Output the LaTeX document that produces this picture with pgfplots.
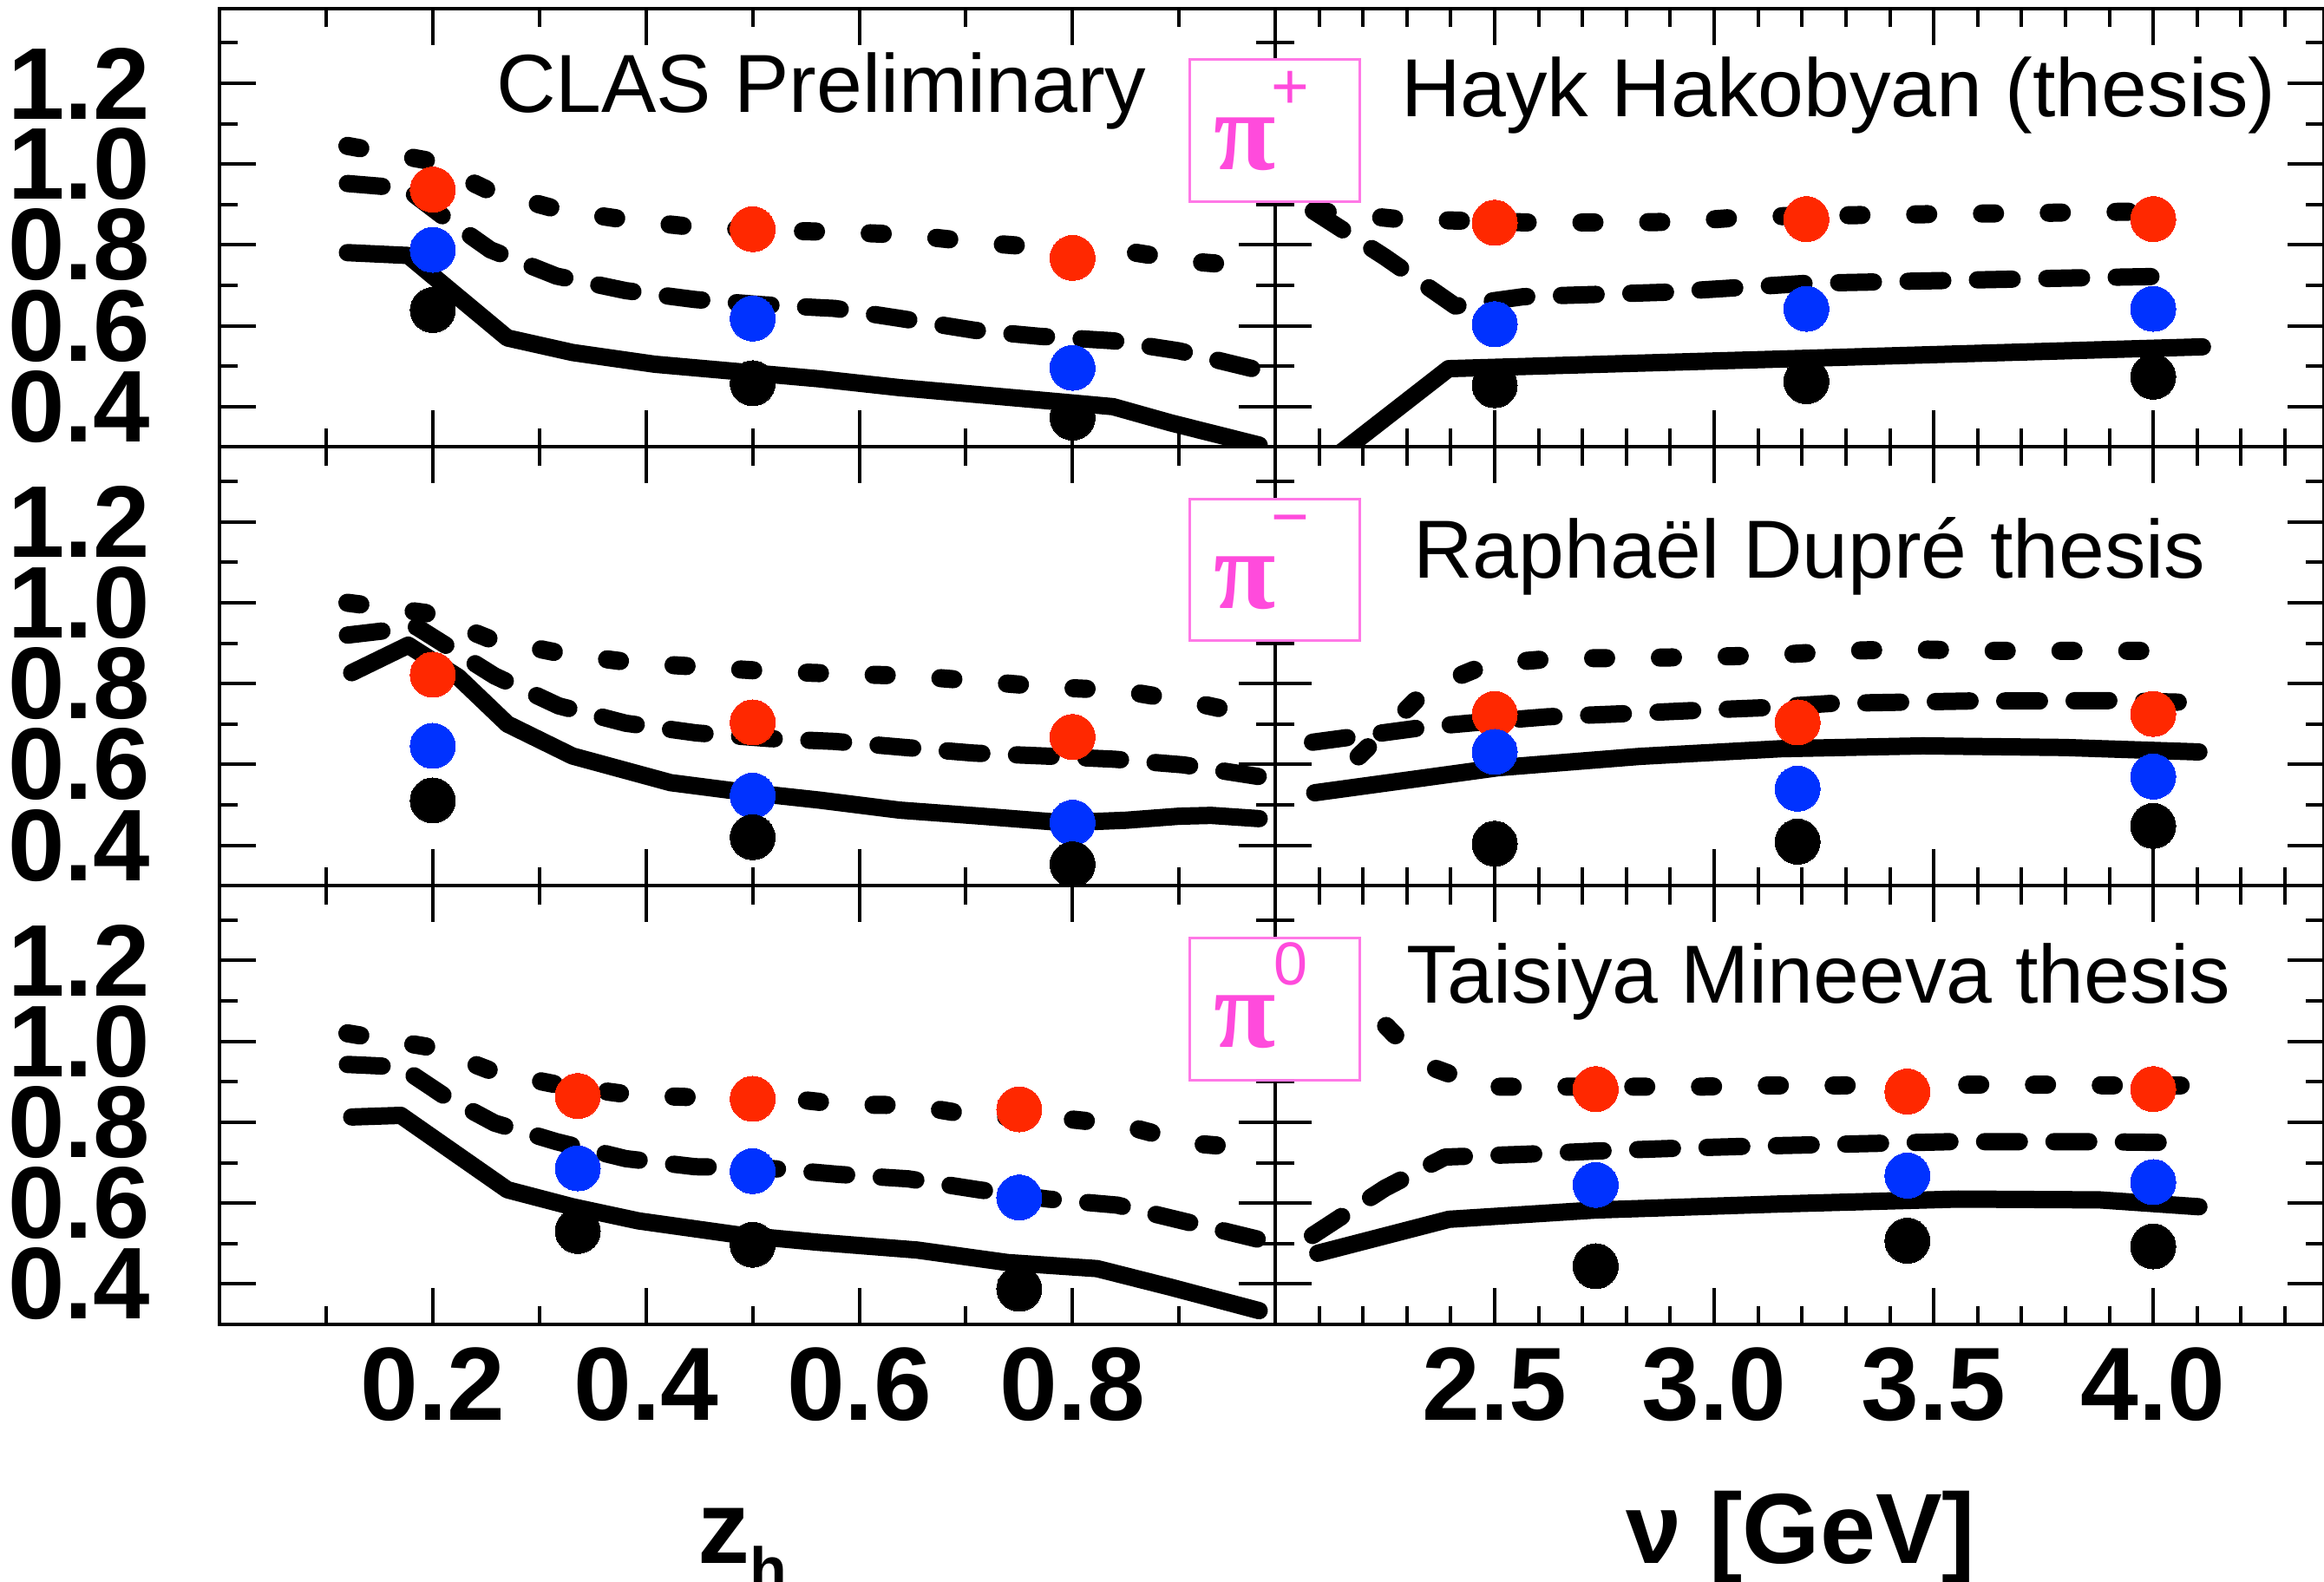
\documentclass[border=0pt]{standalone}
\usepackage{pgfplots}
\pgfplotsset{compat=1.18}
\usepackage{fontspec}
\setmainfont{Liberation Sans}
\newfontfamily\pifont{Liberation Serif}
\definecolor{dred}{RGB}{255,40,0}
\definecolor{dblue}{RGB}{0,50,255}
\definecolor{pimag}{RGB}{255,75,220}
\definecolor{boxmag}{RGB}{255,120,230}
\pgfplotsset{
 panel/.style={scale only axis, anchor=south west, height=101.15pt,
   ymin=0.3, ymax=1.385, ytick={0.4,0.6,0.8,1.0,1.2}, minor ytick={0.3,0.5,0.7,0.9,1.1,1.3},
   yticklabels={}, xticklabels={},
   tick align=inside, major tick length=8.4pt, minor tick length=4.3pt,
   every tick/.style={black, line width=0.8pt},
   axis line style={line width=0.8pt},
   xticklabel style={font=\fontsize{24}{24}\selectfont\bfseries, anchor=north, inner sep=0pt, yshift=-5.2pt},
   yticklabel style={font=\fontsize{23.5}{23.5}\selectfont\bfseries, anchor=east, inner sep=0pt, xshift=-15.8pt},
 },
 zp/.style={panel, width=243.4pt, xmin=0, xmax=0.99, xtick={0.2,0.4,0.6,0.8}, minor xtick={0.1,0.3,0.5,0.7,0.9}},
 np/.style={panel, width=241.8pt, xmin=2.0, xmax=4.389, xtick={2.5,3.0,3.5,4.0},
   minor xtick={2.1,2.2,2.3,2.4,2.6,2.7,2.8,2.9,3.1,3.2,3.3,3.4,3.6,3.7,3.8,3.9,4.1,4.2,4.3}},
 sol/.style={black, line width=4pt, line join=round, line cap=round},
 dsh/.style={black, line width=4pt, dash pattern=on 8pt off 8pt, line cap=round, line join=round},
 dtt/.style={black, line width=4.2pt, dash pattern=on 3pt off 12.4pt, line cap=round, line join=round},
 rmk/.style={dred, only marks, mark=*, mark size=5.2pt, mark options={draw=dred, fill=dred, line width=0pt}},
 bmk/.style={dblue, only marks, mark=*, mark size=5.2pt, mark options={draw=dblue, fill=dblue, line width=0pt}},
 kmk/.style={black, only marks, mark=*, mark size=5.2pt, mark options={draw=black, fill=black, line width=0pt}},
}
\begin{document}
\begin{tikzpicture}
% ---------------- top left: pi+ vs z_h
\begin{axis}[zp, at={(50.6pt,261.5pt)}, yticklabels={0.4,0.6,0.8,1.0,1.2}]
\addplot[dtt] coordinates {(0.12,1.045) (0.193,1.010) (0.254,0.933) (0.320,0.886) (0.385,0.861) (0.450,0.843) (0.516,0.836) (0.581,0.832) (0.646,0.825) (0.712,0.806) (0.781,0.792) (0.842,0.788) (0.911,0.759) (0.975,0.746)};
\addplot[dsh] coordinates {(0.12,0.952) (0.175,0.94) (0.21,0.87) (0.254,0.788) (0.316,0.723) (0.381,0.687) (0.446,0.665) (0.51,0.652) (0.577,0.643) (0.639,0.618) (0.708,0.589) (0.769,0.574) (0.838,0.563) (0.900,0.538) (0.975,0.490)};
\addplot[sol] coordinates {(0.120,0.781) (0.177,0.774) (0.270,0.570) (0.331,0.534) (0.408,0.505) (0.485,0.487) (0.562,0.469) (0.638,0.447) (0.715,0.429) (0.792,0.411) (0.838,0.400) (0.892,0.360) (0.975,0.305)};
\addplot[rmk] coordinates {(0.2,0.937) (0.5,0.839) (0.8,0.768)};
\addplot[bmk] coordinates {(0.2,0.788) (0.5,0.618) (0.8,0.496)};
\addplot[kmk] coordinates {(0.2,0.639) (0.5,0.458) (0.8,0.373)};
\end{axis}
% ---------------- top right: pi+ vs nu
\begin{axis}[np, at={(294pt,261.5pt)}]
\addplot[dtt] coordinates {(2.09,0.885) (2.28,0.864) (2.60,0.855) (2.92,0.857) (3.08,0.870) (3.40,0.875) (3.72,0.879) (4.06,0.884)};
\addplot[dsh] coordinates {(2.087,0.884) (2.25,0.77) (2.41,0.649) (2.565,0.672) (2.887,0.683) (3.209,0.705) (3.524,0.712) (3.846,0.719) (4.06,0.723)};
\addplot[sol] coordinates {(2.13,0.27) (2.395,0.494) (4.112,0.548)};
\addplot[rmk] coordinates {(2.5,0.855) (3.21,0.864) (4.0,0.864)};
\addplot[bmk] coordinates {(2.5,0.604) (3.21,0.642) (4.0,0.642)};
\addplot[kmk] coordinates {(2.5,0.453) (3.21,0.463) (4.0,0.474)};
\end{axis}
% ---------------- middle left: pi- vs z_h
\begin{axis}[zp, at={(50.6pt,160.35pt)}, yticklabels={0.4,0.6,0.8,1.0,1.2}]
\addplot[dtt] coordinates {(0.12,1.0) (0.193,0.975) (0.254,0.910) (0.322,0.874) (0.387,0.852) (0.453,0.841) (0.518,0.830) (0.585,0.824) (0.650,0.819) (0.716,0.805) (0.781,0.791) (0.846,0.783) (0.912,0.754) (0.975,0.718)};
\addplot[dsh] coordinates {(0.12,0.92) (0.185,0.94) (0.258,0.819) (0.318,0.745) (0.381,0.702) (0.447,0.678) (0.516,0.664) (0.577,0.657) (0.643,0.642) (0.708,0.628) (0.773,0.621) (0.839,0.613) (0.904,0.599) (0.975,0.570)};
\addplot[sol] coordinates {(0.124,0.827) (0.177,0.895) (0.224,0.816) (0.270,0.700) (0.331,0.621) (0.423,0.555) (0.485,0.534) (0.562,0.512) (0.638,0.487) (0.715,0.472) (0.792,0.456) (0.85,0.462) (0.90,0.472) (0.93,0.474) (0.975,0.466)};
\addplot[rmk] coordinates {(0.2,0.822) (0.5,0.704) (0.8,0.668)};
\addplot[bmk] coordinates {(0.2,0.646) (0.5,0.523) (0.8,0.456)};
\addplot[kmk] coordinates {(0.2,0.511) (0.5,0.420) (0.8,0.353)};
\end{axis}
% ---------------- middle right: pi- vs nu
\begin{axis}[np, at={(294pt,160.35pt)}]
\addplot[dtt] coordinates {(2.19,0.62) (2.347,0.787) (2.484,0.848) (2.645,0.863) (2.807,0.863) (2.968,0.866) (3.129,0.870) (3.290,0.881) (3.451,0.885) (3.613,0.881) (3.774,0.881) (3.927,0.881) (4.088,0.881)};
\addplot[dsh] coordinates {(2.085,0.655) (2.347,0.693) (2.460,0.704) (2.621,0.718) (2.782,0.725) (2.944,0.733) (3.105,0.740) (3.266,0.751) (3.427,0.754) (3.580,0.757) (3.741,0.757) (3.903,0.758) (4.064,0.754)};
\addplot[sol] coordinates {(2.09,0.530) (2.508,0.592) (2.831,0.620) (3.153,0.639) (3.475,0.646) (3.798,0.642) (4.104,0.631)};
\addplot[rmk] coordinates {(2.5,0.725) (3.19,0.704) (4.0,0.725)};
\addplot[bmk] coordinates {(2.5,0.631) (3.19,0.540) (4.0,0.570)};
\addplot[kmk] coordinates {(2.5,0.404) (3.19,0.409) (4.0,0.448)};
\end{axis}
% ---------------- bottom left: pi0 vs z_h
\begin{axis}[zp, at={(50.6pt,59.2pt)}, yticklabels={0.4,0.6,0.8,1.0,1.2}, xticklabels={0.2,0.4,0.6,0.8}]
\addplot[dtt] coordinates {(0.12,1.02) (0.197,0.986) (0.258,0.924) (0.323,0.890) (0.389,0.867) (0.454,0.861) (0.519,0.863) (0.585,0.844) (0.650,0.842) (0.716,0.813) (0.781,0.812) (0.846,0.794) (0.911,0.748) (0.975,0.734)};
\addplot[dsh] coordinates {(0.12,0.943) (0.17,0.937) (0.212,0.863) (0.258,0.798) (0.316,0.752) (0.381,0.710) (0.446,0.690) (0.512,0.687) (0.581,0.671) (0.646,0.660) (0.712,0.633) (0.777,0.610) (0.842,0.595) (0.908,0.553) (0.975,0.510)};
\addplot[sol] coordinates {(0.124,0.813) (0.170,0.817) (0.270,0.633) (0.331,0.591) (0.393,0.556) (0.485,0.522) (0.562,0.503) (0.654,0.484) (0.739,0.453) (0.823,0.438) (0.892,0.392) (0.975,0.334)};
\addplot[rmk] coordinates {(0.336,0.865) (0.5,0.858) (0.75,0.832)};
\addplot[bmk] coordinates {(0.336,0.686) (0.5,0.679) (0.75,0.614)};
\addplot[kmk] coordinates {(0.336,0.531) (0.5,0.497) (0.75,0.388)};
\end{axis}
% ---------------- bottom right: pi0 vs nu
\begin{axis}[np, at={(294pt,59.2pt)}, xticklabels={2.5,3.0,3.5,4.0}]
\addplot[dtt] coordinates {(2.15,1.16) (2.231,1.062) (2.339,0.943) (2.476,0.888) (2.637,0.888) (2.960,0.888) (3.121,0.891) (3.282,0.891) (3.604,0.893) (3.766,0.893) (3.927,0.891) (4.088,0.891)};
\addplot[dsh] coordinates {(2.085,0.52) (2.250,0.637) (2.387,0.714) (2.573,0.721) (2.734,0.729) (2.895,0.735) (3.056,0.740) (3.218,0.744) (3.379,0.748) (3.540,0.752) (3.701,0.752) (3.862,0.752) (4.023,0.750)};
\addplot[sol] coordinates {(2.097,0.476) (2.396,0.560) (2.731,0.583) (3.153,0.598) (3.556,0.610) (3.878,0.608) (4.104,0.591)};
\addplot[rmk] coordinates {(2.73,0.882) (3.44,0.876) (4.0,0.882)};
\addplot[bmk] coordinates {(2.73,0.645) (3.44,0.668) (4.0,0.652)};
\addplot[kmk] coordinates {(2.73,0.444) (3.44,0.507) (4.0,0.493)};
\end{axis}
% ---------------- particle boxes
\foreach \yb/\yt in {318/350.8, 216.8/249.4, 115.4/148.2}{
  \draw[boxmag, line width=0.6pt, fill=white] (274.2pt,\yb pt) rectangle (313.4pt,\yt pt);
}
\node[anchor=base west, inner sep=0pt, text=pimag, font=\pifont\bfseries\fontsize{26}{26}\selectfont] at (279.6pt,325.4pt) {π};
\node[anchor=base west, inner sep=0pt, text=pimag, font=\pifont\bfseries\fontsize{26}{26}\selectfont] at (279.6pt,224.2pt) {π};
\node[anchor=base west, inner sep=0pt, text=pimag, font=\pifont\bfseries\fontsize{26}{26}\selectfont] at (279.6pt,123.2pt) {π};
\node[inner sep=0pt, text=pimag, font=\fontsize{15}{15}\selectfont] at (297.5pt,343.9pt) {+};
\node[inner sep=0pt, text=pimag, font=\fontsize{15}{15}\selectfont] at (297.5pt,243pt) {−};
\node[inner sep=0pt, text=pimag, font=\fontsize{14}{14}\selectfont] at (297.5pt,142.3pt) {0};
% ---------------- annotations
\node[anchor=base west, inner sep=0pt, font=\fontsize{19}{19}\selectfont] at (114.2pt,338.6pt) {CLAS Preliminary};
\node[anchor=base west, inner sep=0pt, font=\fontsize{19}{19}\selectfont] at (322.8pt,337.7pt) {Hayk Hakobyan (thesis)};
\node[anchor=base west, inner sep=0pt, font=\fontsize{19}{19}\selectfont] at (325.6pt,231.2pt) {Raphaël Dupré thesis};
\node[anchor=base west, inner sep=0pt, font=\fontsize{19}{19}\selectfont] at (324pt,133.2pt) {Taisiya Mineeva thesis};
% ---------------- axis titles
\node[anchor=base west, inner sep=0pt, font=\fontsize{24}{24}\selectfont\bfseries] at (160.6pt,4.2pt) {z\raisebox{-6.2pt}{\fontsize{14}{14}\selectfont h}};
\node[anchor=base, inner sep=0pt, font=\fontsize{23}{23}\selectfont\bfseries] at (415.2pt,4.2pt) {ν [GeV]};
\pgfresetboundingbox
\path[use as bounding box] (0pt,0pt) rectangle (535.8pt,364.6pt);
\end{tikzpicture}
\end{document}
